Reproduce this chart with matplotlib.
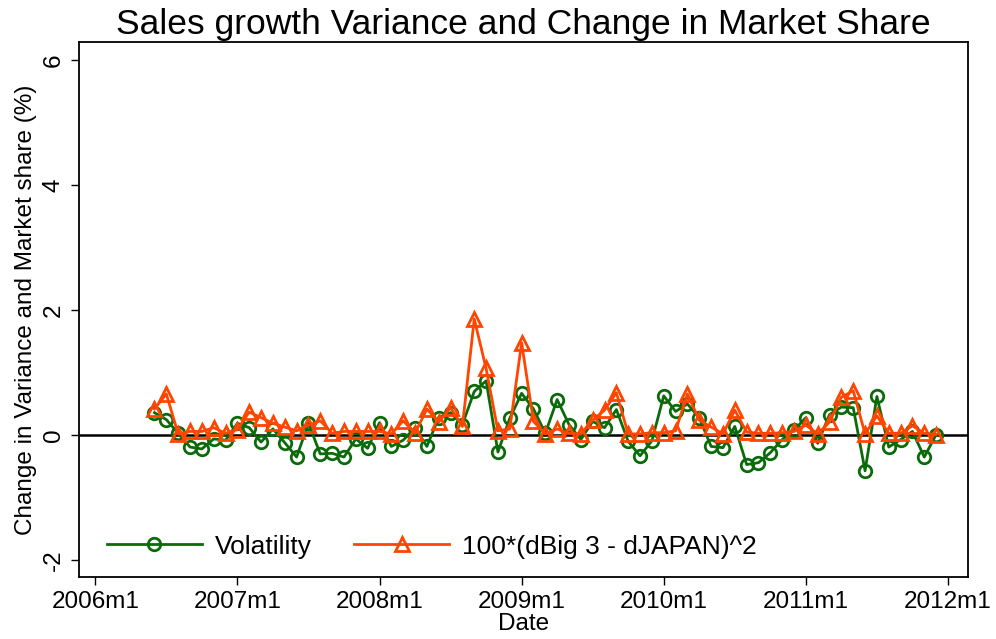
import matplotlib
matplotlib.use("Agg")
import matplotlib.pyplot as plt
import numpy as np

plt.rcParams["font.family"] = ["Liberation Sans", "DejaVu Sans"]

# months counted from 2006m1 = 0, data run 2006m6 .. 2011m12
months = np.arange(5, 72)

volatility = [0.36, 0.25, 0.03, -0.19, -0.22, -0.06, -0.08, 0.19, 0.12, -0.11,
              0.10, -0.12, -0.35, 0.19, -0.30, -0.29, -0.35, -0.06, -0.21, 0.20,
              -0.18, -0.08, 0.12, -0.18, 0.28, 0.36, 0.17, 0.70, 0.87, -0.27,
              0.27, 0.67, 0.42, 0.03, 0.57, 0.17, -0.07, 0.22, 0.12, 0.41,
              -0.10, -0.33, -0.09, 0.63, 0.38, 0.50, 0.28, -0.18, -0.20, 0.14,
              -0.47, -0.44, -0.28, -0.07, 0.08, 0.28, -0.13, 0.33, 0.45, 0.44,
              -0.57, 0.62, -0.19, -0.07, 0.06, -0.35, 0.01]

sq_diff = [0.42, 0.66, 0.02, 0.06, 0.06, 0.12, 0.03, 0.09, 0.37, 0.28,
           0.19, 0.13, 0.07, 0.16, 0.23, 0.03, 0.06, 0.06, 0.06, 0.06,
           0.02, 0.23, 0.03, 0.42, 0.21, 0.44, 0.14, 1.86, 1.07, 0.07,
           0.10, 1.48, 0.22, 0.02, 0.10, 0.03, 0.02, 0.24, 0.40, 0.68,
           0.02, 0.02, 0.04, 0.04, 0.07, 0.66, 0.24, 0.13, 0.02, 0.40,
           0.05, 0.03, 0.03, 0.04, 0.06, 0.16, 0.02, 0.21, 0.61, 0.71,
           0.02, 0.31, 0.03, 0.03, 0.15, 0.03, 0.01]

xticks = np.arange(0, 73, 12)
xlabels = ["2006m1", "2007m1", "2008m1", "2009m1", "2010m1", "2011m1", "2012m1"]
yticks = [-2, 0, 2, 4, 6]

green = "#0b6b0b"
orange = "#ff4500"

fig = plt.figure(figsize=(9.96, 6.39), dpi=100)
ax = fig.add_axes([0.079, 0.097, 0.893, 0.837])

ax.axhline(0, color="black", lw=1.8, zorder=1)

ax.plot(months, volatility, color=green, lw=2, marker="o", ms=9,
        mfc="none", mec=green, mew=2, label="Volatility", zorder=3)
ax.plot(months, sq_diff, color=orange, lw=2, marker="^", ms=10,
        mfc="none", mec=orange, mew=2, label="100*(dBig 3 - dJAPAN)^2", zorder=4)

ax.set_xlim(-1.4, 73.7)
ax.set_ylim(-2.27, 6.29)
ax.set_xticks(xticks)
ax.set_xticklabels(xlabels)
ax.set_yticks(yticks)
ax.set_yticklabels([str(t) for t in yticks], rotation=90, va="center")

ax.tick_params(axis="both", direction="out", length=6, width=1, labelsize=17.5)
ax.tick_params(axis="y", pad=4)
ax.tick_params(axis="x", pad=4)
for s in ax.spines.values():
    s.set_linewidth(1.3)

ax.set_title("Sales growth Variance and Change in Market Share", fontsize=25.5, pad=6)
ax.set_xlabel("Date", fontsize=17.5, labelpad=0)
ax.set_ylabel("Change in Variance and Market share (%)", fontsize=17.5, labelpad=4)

ax.legend(loc="lower left", ncol=2, frameon=False, fontsize=19,
          handlelength=3.6, columnspacing=1.6, handletextpad=0.5,
          bbox_to_anchor=(0.005, -0.01))

fig.savefig("out.png", dpi=100)
